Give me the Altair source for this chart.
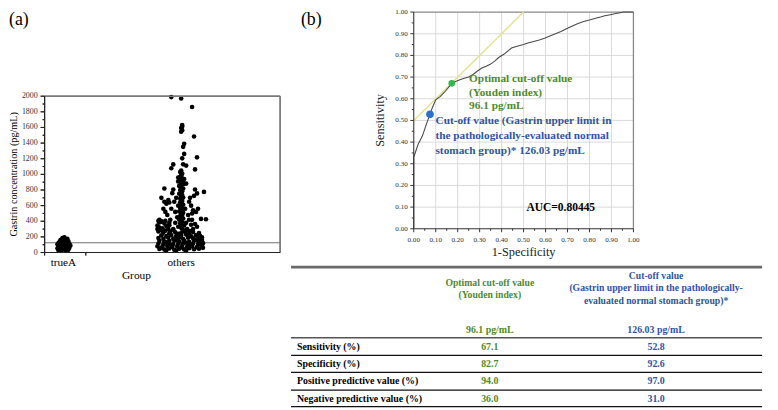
import altair as alt
import pandas as pd

FONT = "Liberation Serif"
W, H = 770, 402
GREEN_T = "#4f8a2b"
BLUE_T = "#2e54a1"
AXC = "#222222"
FRAMEC = "#7a7a7a"

# ---------------- data: panel (a) ----------------
groups = ["trueA", "others"]
cutoff_line = 126.03
y_max_a = 2000.0
y_ticks_a = [0.0, 200.0, 400.0, 600.0, 800.0, 1000.0, 1200.0, 1400.0, 1600.0, 1800.0, 2000.0]
y_minor_a = [100.0, 300.0, 500.0, 700.0, 900.0, 1100.0, 1300.0, 1500.0, 1700.0, 1900.0]
# trueA: (jitter, gastrin pg/mL)
trueA_jitter = [-5, -2, 2, 5, -6, -3, 0, 3, 6, -5, -2, 1, 4, 7, -6, -3, 0, 3, 6, -4, -1, 2, 5, -3, 0, 3, -1, 1, 4, -5]
trueA_vals = [30, 25, 28, 35, 55, 50, 45, 52, 60, 80, 75, 85, 78, 90, 105, 110, 100, 115, 108, 135, 140, 130, 145, 160, 165, 158, 185, 195, 175, 120]

others_jitter = [
    -10, 0, 11, 1, 1, 0, 1, 0, 13, 3, 2, 3, 1, 16, -8, -10, 2, 5, 14,
    0, -1, 1, 0, -1, 1, 0, -2, 2, 0, 1, -2, 0, 2, -1, 1, 0, -2, 1, 0, 2, -1, 0, 1, -1, 0, 2, 0,
    0, -1, 1, 0, -2, 2, 0, 1, -1, 0, 2, -2, 0, 1, -1, 0, 3, -3, 0, 1, -3, 3, -3, 3,
    -8, 5, 14, 16, 13, -12, -15, -5, -20, 8, 10, -10, -18, 12, 17, 20, 15, -14, 7, -6, -3, 4,
    -20, -22, -16, -12, 10, 14, -8, 6, -24, -19, 18, -9, 9, -7, -16, 11, -11, 8, -4, 5, -6, 12,
    -13, 16, -22, -17, -13, -17, -23, 23, 25, 11,
    -22, -20, -17, -24, -15, -19, -12,
    -22, -17, -12, -7, -2, 3, 8, 13, 18, 22,
    -24, -19, -14, -9, -4, 1, 6, 11, 16, 21,
    -23, -18, -13, -8, -3, 2, 7, 12, 17, 22,
    -22, -17, -12, -7, -2, 3, 8, 13, 18, 21,
    -23, -18, -13, -8, -3, 2, 7, 12, 17, 21,
    -20, -15, -10, -5, 0, 5, 10, 15,
    -18, -12, -6, 0, 6, 12, -23,
    -22, -16, -8, 4, 9,
    -20, -10, 0, 10, 20, -15, -5, 5, 15, -1, 3, -3, 8, -11, 19, -5, 5, -15,
]
others_vals = [
    1988, 1971, 1861, 1630, 1612, 1592, 1565, 1545, 1485, 1390, 1352, 1262, 1205, 1218, 1127, 1078, 1128, 1112, 1063,
    1050, 1030, 1010, 990, 968, 950, 935, 918, 902, 886, 870, 852, 835, 818, 800, 785, 768, 752, 736, 720, 704, 690, 674,
    658, 642, 628, 612, 598, 584, 570, 556, 540, 525, 510, 495, 480, 466, 452, 436, 420, 404, 390, 375, 360, 346, 330,
    316, 300, 960, 940, 910, 880,
    806, 882, 806, 756, 725, 640, 625, 700, 700, 650, 600, 560, 560, 540, 560, 430, 520, 480, 480, 520, 600, 560,
    400, 385, 405, 350, 355, 365, 300, 300, 300, 280, 250, 760, 700, 650, 520, 500, 420, 420, 450, 380, 380, 300,
    300, 330, 320, 819, 671, 650, 405, 776, 426, 418,
    420, 395, 370, 345, 340, 310, 380,
    45, 38, 52, 35, 48, 40, 55, 42, 50, 60,
    80, 72, 85, 70, 78, 88, 74, 82, 70, 86,
    115, 105, 120, 108, 112, 118, 104, 115, 110, 120,
    150, 140, 148, 155, 142, 150, 138, 155, 145, 160,
    185, 175, 190, 178, 186, 172, 190, 182, 176, 195,
    220, 210, 225, 212, 218, 230, 208, 222,
    255, 245, 260, 250, 248, 262, 270,
    290, 280, 290, 285, 275,
    60, 95, 65, 95, 100, 130, 160, 125, 165, 200, 270, 240, 240, 270, 215, 25, 22, 28,
]

# ---------------- data: panel (b) ROC ----------------
roc_fpr = [0, 0, 0.005, 0.01, 0.02, 0.03, 0.04, 0.05, 0.06, 0.074, 0.085, 0.1, 0.12, 0.14, 0.16, 0.173, 0.19, 0.21,
           0.23, 0.25, 0.27, 0.29, 0.31, 0.33, 0.35, 0.37, 0.385, 0.41, 0.445, 0.47, 0.50, 0.52, 0.55, 0.575, 0.595,
           0.62, 0.645, 0.67, 0.70, 0.72, 0.745, 0.77, 0.80, 0.82, 0.85, 0.87, 0.895, 0.92, 0.94, 0.955, 0.97, 1.0]
roc_tpr = [0, 0.33, 0.345, 0.36, 0.39, 0.41, 0.43, 0.46, 0.49, 0.528, 0.56, 0.595, 0.61, 0.63, 0.655, 0.671, 0.68,
           0.688, 0.695, 0.70, 0.712, 0.728, 0.742, 0.75, 0.76, 0.775, 0.789, 0.805, 0.834, 0.842, 0.85, 0.857, 0.865,
           0.872, 0.879, 0.89, 0.90, 0.91, 0.925, 0.935, 0.946, 0.955, 0.963, 0.969, 0.977, 0.983, 0.988, 0.993,
           0.997, 1.0, 1.0, 1.0]
roc_ticks = [round(i * 0.1, 1) for i in range(11)]
roc_minor = [round(0.05 + i * 0.1, 2) for i in range(10)]
tangent_x = [0.0, 0.5]
tangent_y = [0.5, 1.0]
opt_point = (0.173, 0.671)
cut_point = (0.074, 0.528)
opt_note = ["Optimal cut-off value", "(Youden index)", "96.1 pg/mL"]
cut_note = ["Cut-off value (Gastrin upper limit in", "the pathologically-evaluated normal", "stomach group)* 126.03 pg/mL"]
auc_text = "AUC=0.80445"

# ---------------- data: table ----------------
row_labels = ["Sensitivity  (%)", "Specificity (%)", "Positive predictive value (%)", "Negative predictive value (%)"]
opt_vals = [67.1, 82.7, 94.0, 36.0]
cut_vals = [52.8, 92.6, 97.0, 31.0]
opt_header = ["Optimal cut-off value", "(Youden index)"]
cut_header = ["Cut-off value", "(Gastrin upper limit in the pathologically-", "evaluated normal stomach group)*"]
opt_value_text = "96.1 pg/mL"
cut_value_text = "126.03 pg/mL"


def fdf(d):
    df = pd.DataFrame(d)
    for c in df.columns:
        if c not in ("t", "c", "a"):
            df[c] = df[c].astype(float)
    return df


def segs(rows, xs, ys, color, width=1.0):
    """line segments drawn as 2-point lines: rows of (x1, y1, x2, y2)"""
    recs = []
    for i, (x1, y1, x2, y2) in enumerate(rows):
        recs.append({"x": float(x1), "y": float(y1), "s": i, "o": 0})
        recs.append({"x": float(x2), "y": float(y2), "s": i, "o": 1})
    return alt.Chart(pd.DataFrame(recs)).mark_line(color=color, strokeWidth=width, strokeCap="butt").encode(
        x=alt.X("x:Q", scale=xs, axis=None), y=alt.Y("y:Q", scale=ys, axis=None),
        detail="s:N", order="o:Q")


def text(df, xs, ys, **mk):
    return alt.Chart(df).mark_text(font=FONT, **mk).encode(
        x=alt.X("x:Q", scale=xs, axis=None), y=alt.Y("y:Q", scale=ys, axis=None), text="t:N")


# =============== panel (a) ===============
XMIN_A, XMAX_A = 0.8403, 2.8403
RA = [37, 275]
RAY = [245, 87]
PXA = (XMAX_A - XMIN_A) / (RA[1] - RA[0])
PYA = y_max_a / (RAY[0] - RAY[1])
J = 1 / 119.0
xA = alt.Scale(domain=[XMIN_A, XMAX_A], range=RA, nice=False, zero=False)
yA = alt.Scale(domain=[0, y_max_a], range=RAY, nice=False)


def ax_px(x):   # panel (a) x value -> pixel (same mapping as scale xA)
    return RA[0] + (x - XMIN_A) / (XMAX_A - XMIN_A) * (RA[1] - RA[0])


def ay_px(y):   # panel (a) y value -> pixel (same mapping as scale yA)
    return RAY[0] + y / y_max_a * (RAY[1] - RAY[0])


pts = fdf({
    "x": [1 + j * J for j in trueA_jitter] + [2 + j * J for j in others_jitter],
    "y": trueA_vals + others_vals,
})
hidden_ax = dict(domain=False, ticks=False, labels=False, grid=False, title=None)
scatter = alt.Chart(pts).mark_circle(size=22, color="black", opacity=1).encode(
    x=alt.X("x:Q", scale=xA, axis=alt.Axis(orient="bottom", offset=-(H - RAY[0]), **hidden_ax)),
    y=alt.Y("y:Q", scale=yA, axis=alt.Axis(orient="left", offset=-RA[0], **hidden_ax)))

# frame, cut-off line and axis lines in one rule layer (x, x2, y, y2 per row)
lines_a = fdf({
    "x": [XMIN_A, XMAX_A, XMIN_A, XMIN_A, XMIN_A],
    "x2": [XMAX_A, XMAX_A, XMAX_A, XMAX_A, XMIN_A],
    "y": [y_max_a, 0.0, cutoff_line, 0.0, 0.0],
    "y2": [y_max_a, y_max_a, cutoff_line, 0.0, y_max_a],
    "c": [FRAMEC, FRAMEC, "#6e6e6e", AXC, AXC],
    "w": [1.4, 1.4, 1.1, 1.1, 1.1],
})
rulesA = alt.Chart(lines_a).mark_rule().encode(
    x=alt.X("x:Q", scale=xA, axis=None), x2="x2:Q", y=alt.Y("y:Q", scale=yA, axis=None), y2="y2:Q",
    color=alt.Color("c:N", scale=None), strokeWidth=alt.StrokeWidth("w:Q", scale=None))
tick_rows = ([(XMIN_A, v, XMIN_A - 4 * PXA, v) for v in y_ticks_a] +
             [(XMIN_A, v, XMIN_A - 2 * PXA, v) for v in y_minor_a] +
             [(v, 0.0, v, -3 * PYA) for v in (XMIN_A, 1.19)])
ticksA_df = fdf({"x": [r[0] for r in tick_rows], "y": [r[1] for r in tick_rows],
                 "x2": [r[2] for r in tick_rows], "y2": [r[3] for r in tick_rows]})
ticksA = alt.Chart(ticksA_df).mark_rule(color=AXC, strokeWidth=1).encode(
    x=alt.X("x:Q", scale=xA, axis=None), x2="x2:Q", y=alt.Y("y:Q", scale=yA, axis=None), y2="y2:Q")
ylabA = text(fdf({"t": [str(int(v)) for v in y_ticks_a], "x": [XMIN_A] * len(y_ticks_a), "y": y_ticks_a}), xA, yA,
             align="right", baseline="middle", dx=-7, fontSize=8, color="#333")
xlabA = text(fdf({"t": groups, "x": [1, 2], "y": [0, 0]}), xA, yA,
             align="center", baseline="middle", dy=11, fontSize=11.3, color="black")
titleXA = text(fdf({"t": ["Group"], "x": [1.62], "y": [0.0]}), xA, yA,
               align="center", baseline="middle", dy=24, fontSize=11.5, color="black")
# rotated text: dy moves it horizontally on screen
titleYA = text(fdf({"t": ["Gastrin concentration (pg/mL)"], "x": [XMIN_A], "y": [1000]}), xA, yA,
               align="center", baseline="middle", angle=270, dy=-31, fontSize=10.3, color="black")
panelA = alt.layer(rulesA, ticksA, scatter, ylabA, xlabA, titleXA, titleYA)

# =============== panel (b) ROC ===============
RBX, RBY = [410, 632], [221, 2]
PXB = 1 / (RBX[1] - RBX[0])
PYB = 1 / (RBY[0] - RBY[1])
xB = alt.Scale(domain=[0, 1], range=RBX, nice=False)
yB = alt.Scale(domain=[0, 1], range=RBY, nice=False)

gridB = segs([(v, 0, v, 1) for v in roc_ticks[1:-1]] + [(0, v, 1, v) for v in roc_ticks[1:-1]],
             xB, yB, "#dadada", 1)
frameB = segs([(0, 1, 1, 1), (1, 0, 1, 1)], xB, yB, "#8a8a8a", 1.3)
domB = segs([(0, 0, 1, 0), (0, 0, 0, 1)], xB, yB, "#333", 1.1)
ticksB = segs([(v, 0, v, -3.5 * PYB) for v in roc_ticks] + [(v, 0, v, -2 * PYB) for v in roc_minor] +
              [(0, v, -3.5 * PXB, v) for v in roc_ticks] + [(0, v, -2 * PXB, v) for v in roc_minor],
              xB, yB, "#333", 1)
xlabB = text(fdf({"t": [f"{v:.2f}" for v in roc_ticks], "x": roc_ticks, "y": [0.0] * 11}), xB, yB,
             align="center", baseline="middle", dy=11, fontSize=7.2, color="#333")
ylabB = text(fdf({"t": [f"{v:.2f}" for v in roc_ticks], "y": roc_ticks, "x": [0.0] * 11}), xB, yB,
             align="right", baseline="middle", dx=-6, fontSize=7.2, color="#333")
titleXB = text(fdf({"t": ["1-Specificity"], "x": [0.5], "y": [0.0]}), xB, yB,
               align="center", baseline="middle", dy=23, fontSize=12.5, color="#222")
titleYB = text(fdf({"t": ["Sensitivity"], "x": [0.0], "y": [0.5]}), xB, yB,
               align="center", baseline="middle", angle=270, dy=-34, fontSize=12.5, color="#222")
tangent = alt.Chart(fdf({"x": tangent_x, "y": tangent_y})).mark_line(
    color="#e6e28a", strokeWidth=1.4).encode(
    x=alt.X("x:Q", scale=xB, axis=None), y=alt.Y("y:Q", scale=yB, axis=None))
roc = alt.Chart(fdf({"x": roc_fpr, "y": roc_tpr, "o": list(range(len(roc_fpr)))})).mark_line(
    color="#4a4a4a", strokeWidth=1.1).encode(
    x=alt.X("x:Q", scale=xB, axis=None), y=alt.Y("y:Q", scale=yB, axis=None), order="o:Q")
dots = alt.Chart(fdf({
    "x": [opt_point[0], cut_point[0]], "y": [opt_point[1], cut_point[1]],
    "c": ["#2fb84e", "#2a72c8"], "sz": [45, 60]})).mark_circle(opacity=1).encode(
    x=alt.X("x:Q", scale=xB, axis=None), y=alt.Y("y:Q", scale=yB, axis=None),
    color=alt.Color("c:N", scale=None), size=alt.Size("sz:Q", scale=None))
notes = fdf({
    "t": opt_note + cut_note,
    "x": [0.252] * 3 + [0.099] * 3,
    "y": [0.691, 0.628, 0.565, 0.497, 0.428, 0.358],
    "c": [GREEN_T] * 3 + [BLUE_T] * 3,
})
noteText = alt.Chart(notes).mark_text(align="left", baseline="middle", font=FONT, fontWeight="bold",
                                      fontSize=11.4).encode(
    x=alt.X("x:Q", scale=xB, axis=None), y=alt.Y("y:Q", scale=yB, axis=None),
    text="t:N", color=alt.Color("c:N", scale=None))
auc = text(fdf({"t": [auc_text], "x": [0.513], "y": [0.094]}), xB, yB,
           align="left", baseline="middle", fontWeight="bold", fontSize=11.6, color="black")
panelB = alt.layer(gridB, frameB, tangent, roc, domB, ticksB, xlabB, ylabB,
                   titleXB, titleYB, dots, noteText, auc)

# =============== table ===============
xT = alt.Scale(domain=[0, 1], range=[286, 762], nice=False)
yT = alt.Scale(domain=[0, 1], range=[259.7, 401.3], nice=False)
tableTop = segs([(0, 0.0, 1, 0.0)], xT, yT, "#6a6a6a", 2.6)
tableMid = segs([(0, 0.5035, 1, 0.5035)], xT, yT, "#555555", 1.5)
tableRows = segs([(0, v, 1, v) for v in (0.6306, 0.7507, 0.8779, 0.996)], xT, yT, "#111111", 1.3)

COL_LABEL, COL_OPT, COL_CUT = 0.0126, 0.422, 0.775
ROW_Y = [0.567, 0.691, 0.814, 0.939]
cells = []
for i, lab in enumerate(row_labels):
    cells.append({"t": lab, "x": COL_LABEL, "y": ROW_Y[i], "c": "black", "a": "left", "fs": 10})
    cells.append({"t": f"{opt_vals[i]:.1f}", "x": COL_OPT, "y": ROW_Y[i], "c": GREEN_T, "a": "center", "fs": 10})
    cells.append({"t": f"{cut_vals[i]:.1f}", "x": COL_CUT, "y": ROW_Y[i], "c": BLUE_T, "a": "center", "fs": 10})
for t, yy in zip(opt_header, [0.115, 0.200]):
    cells.append({"t": t, "x": COL_OPT, "y": yy, "c": GREEN_T, "a": "center", "fs": 9.8})
for t, yy in zip(cut_header, [0.066, 0.150, 0.242]):
    cells.append({"t": t, "x": COL_CUT, "y": yy, "c": BLUE_T, "a": "center", "fs": 9.8})
cells.append({"t": opt_value_text, "x": COL_OPT, "y": 0.447, "c": GREEN_T, "a": "center", "fs": 10})
cells.append({"t": cut_value_text, "x": COL_CUT, "y": 0.447, "c": BLUE_T, "a": "center", "fs": 10})
cells = fdf(cells)


def cell_layer(df, align):
    return alt.Chart(df).mark_text(align=align, baseline="middle", font=FONT, fontWeight="bold").encode(
        x=alt.X("x:Q", scale=xT, axis=None), y=alt.Y("y:Q", scale=yT, axis=None),
        text="t:N", color=alt.Color("c:N", scale=None), size=alt.Size("fs:Q", scale=None))


panelT = alt.layer(tableTop, tableMid, tableRows,
                   cell_layer(cells[cells.a == "left"], "left"),
                   cell_layer(cells[cells.a == "center"], "center"))

# =============== page-level layer: panel letters + panel (a) box/axis lines ===============
xP = alt.Scale(domain=[0, 1], range=[0, W], nice=False)
yP = alt.Scale(domain=[0, 1], range=[0, H], nice=False)
letters = text(fdf({"t": ["(a)", "(b)"], "x": [11 / W, 306.5 / W], "y": [10 / H, 10 / H]}), xP, yP,
               align="center", baseline="middle", fontSize=18, color="black")


def page_seg(rows):
    return [(ax_px(x1) / W, ay_px(y1) / H, ax_px(x2) / W, ay_px(y2) / H) for (x1, y1, x2, y2) in rows]


boxP = segs(page_seg([(XMIN_A, y_max_a, XMAX_A, y_max_a), (XMAX_A, 0.0, XMAX_A, y_max_a)]), xP, yP, FRAMEC, 1.4)
domP = segs(page_seg([(XMIN_A, 0.0, XMAX_A, 0.0), (XMIN_A, 0.0, XMIN_A, y_max_a)]), xP, yP, AXC, 1.1)
tickP = segs(page_seg(tick_rows), xP, yP, AXC, 1)
pageLayer = alt.layer(boxP, domP, tickP, letters)

chart = alt.layer(panelB, panelT, panelA, pageLayer).resolve_scale(
    x="independent", y="independent"
).properties(
    width=W, height=H, padding=0, autosize=alt.AutoSizeParams(type="none")
).configure_view(stroke=None)

chart.save("out.html", embed_options={"renderer": "svg", "actions": False})
